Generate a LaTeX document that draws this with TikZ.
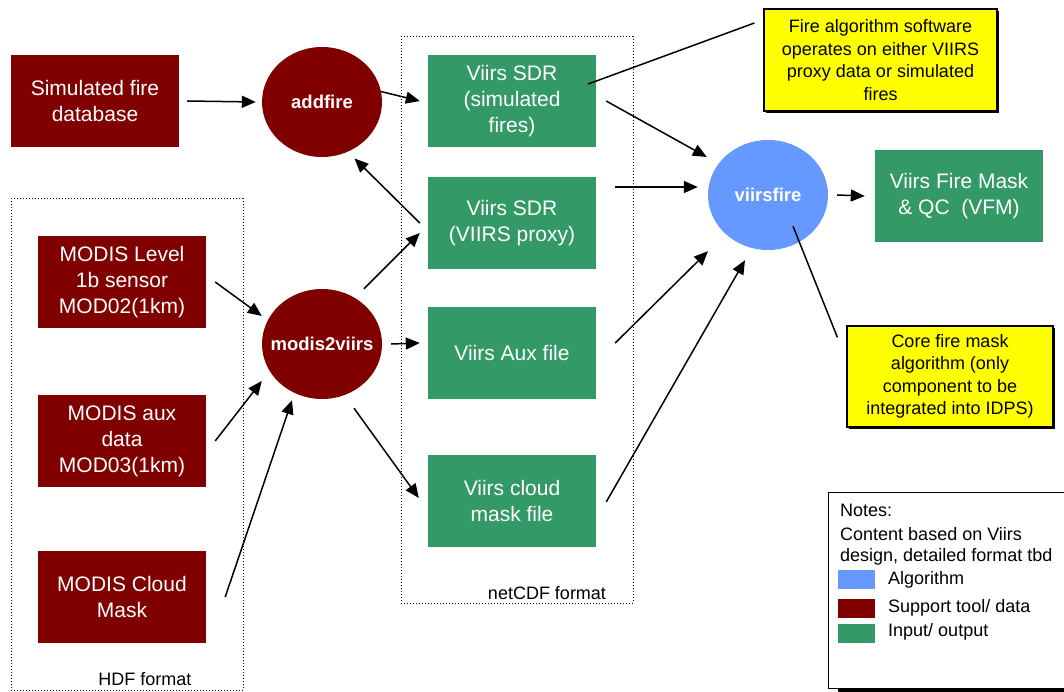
\documentclass[tikz,border=0pt]{standalone}
\usepackage{fontspec}
\setmainfont{Liberation Sans}
\usetikzlibrary{arrows.meta,shapes.geometric,shadows}
\definecolor{toolred}{HTML}{800000}
\definecolor{iogreen}{HTML}{339966}
\definecolor{algoblue}{HTML}{6699FF}
\definecolor{noteyellow}{HTML}{FFFF00}
\tikzset{
  tool/.style={fill=toolred, text=white, minimum width=168, minimum height=92, inner sep=0, align=center, font=\fontsize{21}{26}\selectfont},
  io/.style={tool, fill=iogreen},
  proc/.style={ellipse, fill=#1, text=white, minimum width=120, minimum height=110, inner sep=0, font=\bfseries\fontsize{18.5}{22}\selectfont},
  memo/.style={draw, fill=noteyellow, line width=1.2, inner sep=0, align=center, font=\fontsize{18}{22.5}\selectfont,
    drop shadow={shadow xshift=2pt, shadow yshift=-2pt, fill=black, opacity=1}},
  frame/.style={draw, dotted, line width=1, inner sep=0},
  fmt/.style={inner sep=0, font=\fontsize{18}{21}\selectfont},
  keybox/.style={draw, fill=white, line width=1.2, inner sep=0, anchor=north west, minimum width=247, minimum height=196,
    drop shadow={shadow xshift=9pt, shadow yshift=-7pt, fill=black, opacity=1}},
  keytext/.style={fmt, anchor=west, align=left},
  swatch/.style={inner sep=0, minimum width=37, minimum height=19},
  link/.style={line width=1.5, -{Triangle[length=14pt,width=12pt]}},
  callout/.style={line width=1.5}
}
\begin{document}
\begin{tikzpicture}[x=1pt, y=-1pt]
\useasboundingbox (0,0) rectangle (1064,692);
\node[frame, minimum width=232, minimum height=491] (hdf) at (127,444.5) {};
\node[frame, minimum width=232, minimum height=566] (nc) at (517,320) {};
\node[fmt] (hdflab) at (145,679) {HDF format};
\node[fmt] (nclab) at (547,593) {netCDF format};
\node[tool] (db) at (95,101) {Simulated fire\\database};
\node[tool] (l1b) at (122,282) {MODIS Level\\1b sensor\\MOD02(1km)};
\node[tool] (mod3) at (122,441) {MODIS aux\\data\\MOD03(1km)};
\node[tool] (mcm) at (122,597) {MODIS Cloud\\Mask};
\node[proc=toolred] (add) at (322,102) {\makebox[0pt]{addfire}};
\node[proc=toolred] (m2v) at (322,344) {\makebox[0pt]{modis2viirs}};
\node[io] (sdr1) at (512,101) {Viirs SDR\\(simulated\\fires)};
\node[io] (sdr2) at (512,223) {Viirs SDR\\(VIIRS proxy)};
\node[io] (aux) at (512,353) {Viirs Aux file};
\node[io] (cld) at (512,501) {Viirs cloud\\mask file};
\node[proc=algoblue] (vf) at (768,195) {\makebox[0pt]{viirsfire}};
\node[io] (vfm) at (959,196) {Viirs Fire Mask\\\& QC~~(VFM)};
\node[memo, minimum width=233, minimum height=102] (n1) at (880.5,60) {Fire algorithm software\\operates on either VIIRS\\proxy data or simulated\\fires};
\node[memo, minimum width=206, minimum height=101] (n2) at (950,376.5) {Core fire mask\\algorithm (only\\component to be\\integrated into IDPS)};
\node[keybox] (notes) at (828,492) {};
\node[keytext] (nt) at (840,510) {Notes:};
\node[keytext] (ntx) at (840,546) {Content based on Viirs\\design, detailed format tbd};
\node[swatch, fill=algoblue] (ka) at (856.5,579.5) {};
\node[swatch, fill=toolred] (ks) at (856.5,608.5) {};
\node[swatch, fill=iogreen] (ki) at (856.5,633) {};
\node[keytext] (kat) at (888,580) {Algorithm};
\node[keytext] (kst) at (888,608) {Support tool/ data};
\node[keytext] (kit) at (888,632) {Input/ output};
\draw[link] ([shift={(8,0)}]db.east) -- ([shift={(-6,0)}]add.west);
\draw[link] (add.10) -- ([shift={(-8,0)}]sdr1.west);
\draw[link] ([shift={(-8,0)}]sdr2.west) -- ([shift={(0,10)}]add.-55);
\draw[link] ([shift={(42,0)}]m2v.north) -- ([shift={(-8,10)}]sdr2.west);
\draw[link] ([shift={(9,0)}]m2v.east) -- ([shift={(-8,-10)}]aux.west);
\draw[link] ([shift={(32,9)}]m2v.south) -- ([shift={(-9,-3)}]cld.west);
\draw[link] ([shift={(9,0)}]l1b.east) -- ([shift={(0,-28)}]m2v.west);
\draw[link] ([shift={(9,0)}]mod3.east) -- ([shift={(0,37)}]m2v.west);
\draw[link] ([shift={(19,0)}]mcm.east) -- ([shift={(-30,1)}]m2v.south);
\draw[link] ([shift={(10,0)}]sdr1.east) -- ([shift={(-1,-38)}]vf.west);
\draw[link] ([shift={(19,-36)}]sdr2.east) -- ([shift={(-10,-8)}]vf.west);
\draw[link] ([shift={(19,-10)}]aux.east) -- ([shift={(-60,1)}]vf.south);
\draw[link] ([shift={(10,1)}]cld.east) -- ([shift={(-23,10)}]vf.south);
\draw[link] ([shift={(9,0)}]vf.east) -- ([shift={(-10,0)}]vfm.west);
\draw[callout] ([shift={(-8,-17)}]sdr1.east) -- ([shift={(-9,-37)}]n1.west);
\draw[callout] ([shift={(25,-24)}]vf.south) -- ([shift={(-9,12)}]n2.north west);
\end{tikzpicture}
\end{document}
